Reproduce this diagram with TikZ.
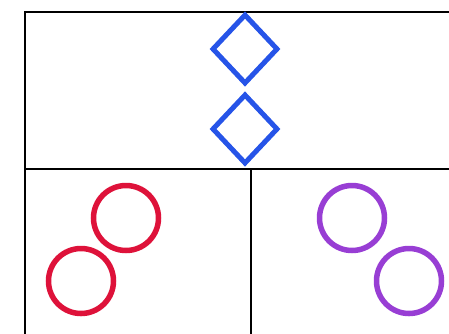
\documentclass[tikz,border=0pt]{standalone}
\usepackage{tikz}
\usetikzlibrary{shapes.geometric}
\definecolor{gemblue}{RGB}{38,84,232}
\definecolor{ringred}{RGB}{222,18,58}
\definecolor{ringpurple}{RGB}{152,62,212}
\begin{document}
\begin{tikzpicture}[
  x=1pt,y=-1pt,
  frame/.style={draw=black,line width=1.8pt},
  gem/.style={diamond,draw=gemblue,line width=5pt,minimum width=66pt,minimum height=70pt,inner sep=0pt},
  ring/.style={circle,draw,line width=5.5pt,minimum size=65pt,inner sep=0pt}
]
\useasboundingbox (0,0) rectangle (449,333);
\clip (0,0) rectangle (449,333);
% Panels
\draw[frame] (25,12) rectangle (470,360);
\coordinate (midl) at (25,169);
\coordinate (midr) at (470,169);
\coordinate (splt) at (251,169);
\coordinate (splb) at (251,360);
\draw[frame] (midl) -- (midr);
\draw[frame] (splt) -- (splb);

% Top panel
\node[gem] (gem1) at (245,49) {};
\node[gem] (gem2) at (245,129) {};

% Lower left panel
\node[ring,draw=ringred] (red1) at (126,218) {};
\node[ring,draw=ringred] (red2) at (81,281) {};

% Lower right panel
\node[ring,draw=ringpurple] (pur1) at (352,218) {};
\node[ring,draw=ringpurple] (pur2) at (409,281) {};
\end{tikzpicture}
\end{document}
